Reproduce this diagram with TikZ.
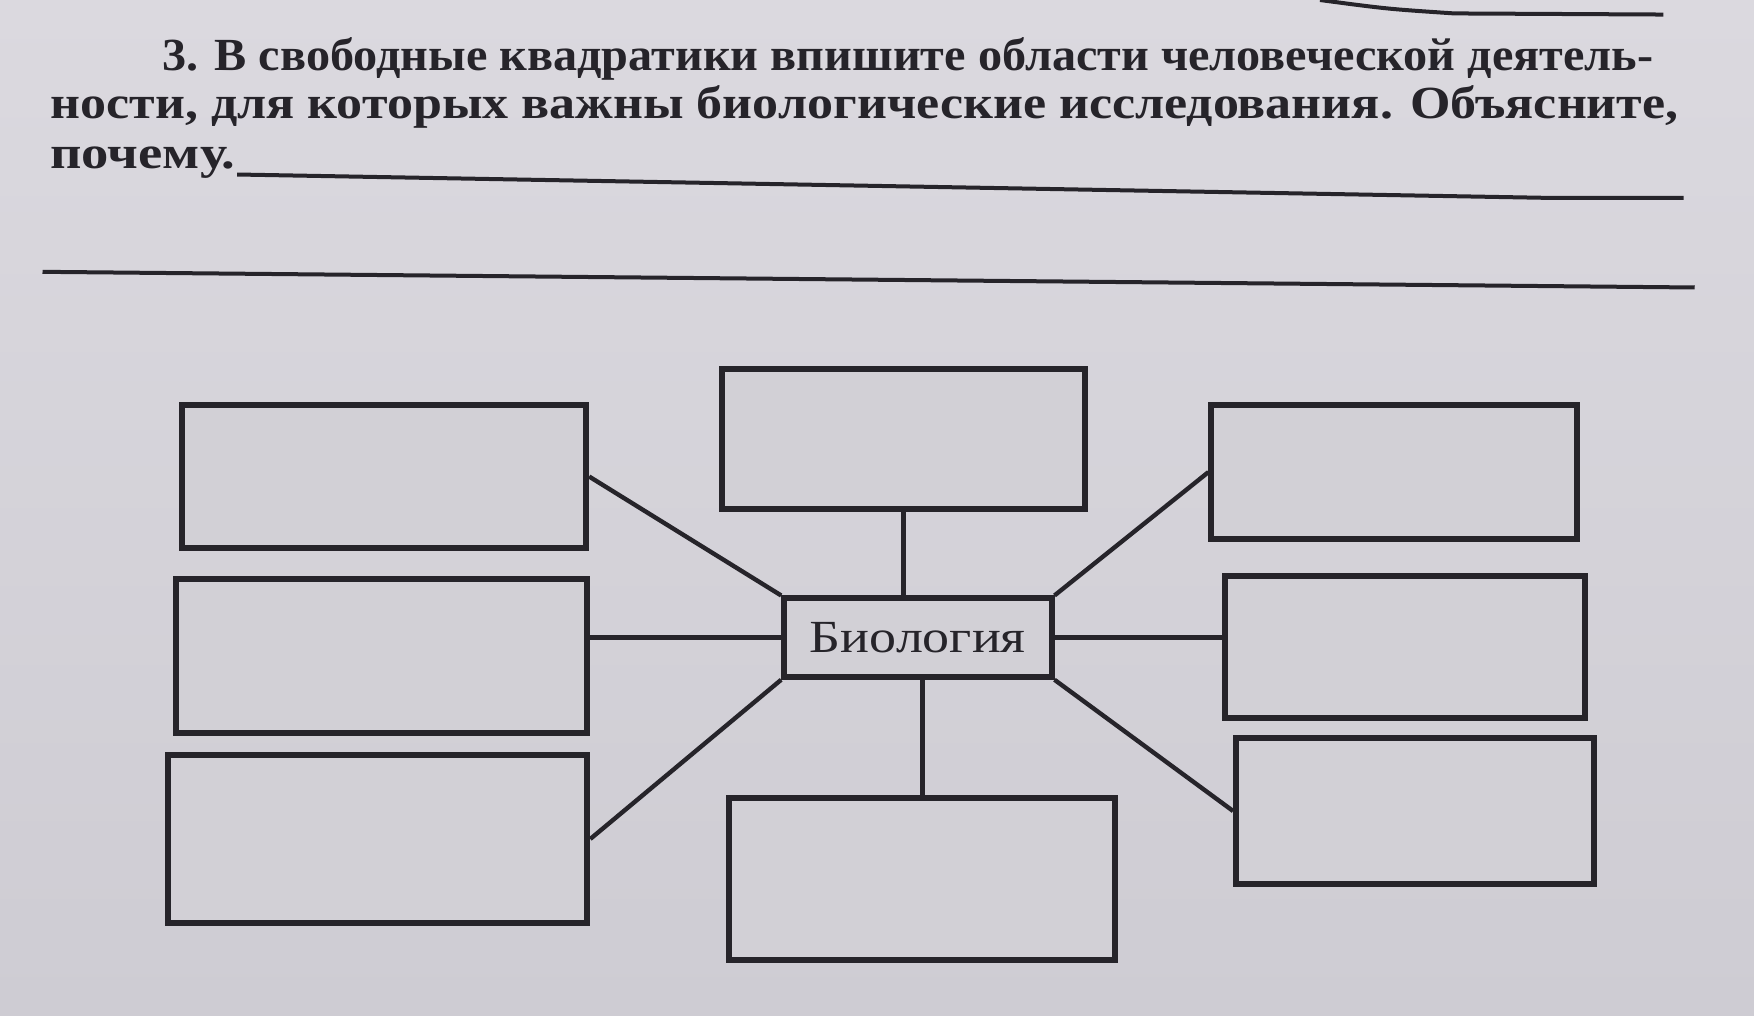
\documentclass[tikz,border=0pt]{standalone}
\usepackage{fontspec}
\setmainfont{Liberation Serif}
\usepackage{graphicx}
\definecolor{paper}{RGB}{206,204,211}
\definecolor{papertop}{RGB}{219,217,223}
\definecolor{boxfill}{RGB}{210,208,214}
\definecolor{ink}{RGB}{38,36,42}
\tikzset{
  blank/.style={draw=ink, line width=6pt, fill=boxfill, inner sep=0pt},
  link/.style={draw=ink, line width=4.4pt},
  rule/.style={draw=ink, line width=4pt},
  headline/.style={anchor=base west, inner sep=0pt, text=ink, font=\bfseries\fontsize{46}{50}\selectfont}
}
\begin{document}
\begin{tikzpicture}[x=1.1186pt, y=-1.1186pt]
\shade[top color=papertop, bottom color=paper] (0,0) rectangle (1568,908);
\useasboundingbox (0,0) rectangle (1568,908);
% heading
\node[headline] (h1) at (145,63) {\resizebox{1491pt}{\height}{3. В свободные квадратики впишите области человеческой деятель-}};
\node[headline] (h2) at (45,106) {\resizebox{1628pt}{\height}{ности, для которых важны биологические исследования. Объясните,}};
\node[headline] (h3) at (45,151) {\resizebox{185pt}{\height}{почему.}};
% rules
\coordinate (r0a) at (1180,0);
\coordinate (r0b) at (1300,12);
\coordinate (r0c) at (1487,13);
\draw[rule] (r0a) .. controls (1240,8) .. (r0b) -- (r0c);
\coordinate (r1a) at (212,156);
\coordinate (r1b) at (1390,177);
\coordinate (r1c) at (1505,177);
\draw[rule] (r1a) -- (r1b) -- (r1c);
\coordinate (r2a) at (38,243);
\coordinate (r2b) at (1515,257);
\draw[rule] (r2a) -- (r2b);
% boxes
\node[blank, minimum width=361*1.1186pt, minimum height=128*1.1186pt] (tl) at (343.5,426) {};
\node[blank, minimum width=325*1.1186pt, minimum height=125*1.1186pt] (tc) at (807.5,392.5) {};
\node[blank, minimum width=327*1.1186pt, minimum height=120*1.1186pt] (tr) at (1246.5,422) {};
\node[blank, minimum width=368*1.1186pt, minimum height=137*1.1186pt] (ml) at (341,586.5) {};
\node[blank, minimum width=322*1.1186pt, minimum height=127*1.1186pt] (mr) at (1256,578.5) {};
\node[blank, minimum width=375*1.1186pt, minimum height=150*1.1186pt] (bl) at (337.5,750) {};
\node[blank, minimum width=345*1.1186pt, minimum height=145*1.1186pt] (bc) at (824.5,785.5) {};
\node[blank, minimum width=320*1.1186pt, minimum height=130*1.1186pt] (br) at (1265,725) {};
\node[blank, minimum width=239*1.1186pt, minimum height=70*1.1186pt, text=ink, font=\fontsize{46}{50}\selectfont] (bio) at (820.5,570) {\resizebox{216pt}{\height}{Биология}};
% connectors
\draw[link] (tl.east) -- (bio.north west);
\draw[link] (tc.south) -- (tc.south |- bio.north);
\draw[link] (tr.west) -- (bio.north east);
\draw[link] (bio.west) -- (bio.west -| ml.east);
\draw[link] (bio.east) -- (bio.east -| mr.west);
\draw[link] (bio.south west) -- (bl.east);
\draw[link] (bc.north |- bio.south) -- (bc.north);
\draw[link] (bio.south east) -- (br.west);
\end{tikzpicture}
\end{document}
